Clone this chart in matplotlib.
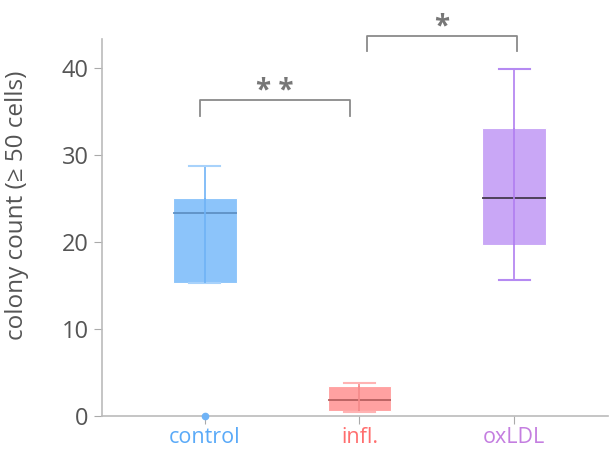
import matplotlib.pyplot as plt
import numpy as np

# Werte
groups = ['control', 'infl.', 'oxLDL']
whislo = [15.3, 0.5, 15.6]
q1 = [15.3, 0.6, 19.6]
med = [23.3, 1.8, 25.0]
q3 = [25.0, 3.4, 33.1]
whishi = [28.7, 3.8, 39.9]
fliers = [[0.0], [], []]

# Signifikanz-Klammern: (von, bis, hoehe, text)
brackets = [(-0.03, 0.94, 36.3, '* *'), (1.05, 2.02, 43.7, '*')]

box_colors = ['#8cc4fa', '#ffa1a1', '#c9a7f6']
line_colors = ['#6fb3f6', '#f58a8a', '#b07ef0']
cap_colors = ['#a8d2fb', '#ffb3b3', '#b58af2']
med_colors = ['#5a8cc0', '#b05a5a', '#3a3040']
label_colors = ['#5aaaf8', '#ff6e6e', '#c47ee0']

plt.rcParams['font.family'] = ['Open Sans', 'DejaVu Sans']

fig = plt.figure(figsize=(6.09, 4.5), dpi=100)
ax = fig.add_axes([0.1675, 0.0756, 0.8305, 0.8374])

pos = np.arange(len(groups))
stats = []
for i in range(len(groups)):
    stats.append(dict(med=med[i], q1=q1[i], q3=q3[i], whislo=whislo[i],
                      whishi=whishi[i], fliers=fliers[i]))

bp = ax.bxp(stats, positions=pos, widths=0.41, patch_artist=True,
            showfliers=False, capwidths=0.2)
for i in range(len(groups)):
    bp['boxes'][i].set_facecolor(box_colors[i])
    bp['boxes'][i].set_edgecolor('white')
    bp['boxes'][i].set_linewidth(0.8)
    bp['medians'][i].set_color(med_colors[i])
    bp['medians'][i].set_linewidth(1.2)
    for w in bp['whiskers'][2 * i:2 * i + 2]:
        w.set_color(line_colors[i])
        w.set_linewidth(1.2)
    for c in bp['caps'][2 * i:2 * i + 2]:
        c.set_color(cap_colors[i])
        c.set_linewidth(1.5)

# Linie durch die Box
ax.vlines(pos, q1, q3, colors=line_colors, linewidth=1.2, zorder=3)

# Ausreisser
for i in range(len(groups)):
    if fliers[i]:
        ax.plot([pos[i]] * len(fliers[i]), fliers[i], 'o', color=line_colors[i],
                markersize=4.5, clip_on=False, zorder=5)

for x0, x1, y, txt in brackets:
    ax.plot([x0, x0, x1, x1], [y - 1.8, y, y, y - 1.8], color='#8a8a8a',
            linewidth=1.3, clip_on=False)
    ax.text((x0 + x1) / 2, y + 1.0, txt, ha='center', va='center',
            fontsize=20, fontweight='bold', color='#777777', clip_on=False)

ax.set_xlim(-0.665, 2.606)
ax.set_ylim(0, 43.3)
ax.set_yticks([0, 10, 20, 30, 40])
ax.set_xticks(pos)
ax.set_xticklabels(groups, fontsize=15.5)
for lbl, c in zip(ax.get_xticklabels(), label_colors):
    lbl.set_color(c)

ax.set_ylabel('colony count (≥ 50 cells)', fontsize=17.5, color='#555555')
ax.yaxis.set_label_coords(-0.145, 0.56)
ax.tick_params(axis='y', labelsize=17, labelcolor='#555555', color='#aaaaaa', length=6)
ax.tick_params(axis='x', color='#aaaaaa', length=6, pad=2)

for s in ['top', 'right']:
    ax.spines[s].set_visible(False)
for s in ['left', 'bottom']:
    ax.spines[s].set_color('#bbbbbb')
    ax.spines[s].set_linewidth(1.2)

fig.savefig('out.png', dpi=100)
